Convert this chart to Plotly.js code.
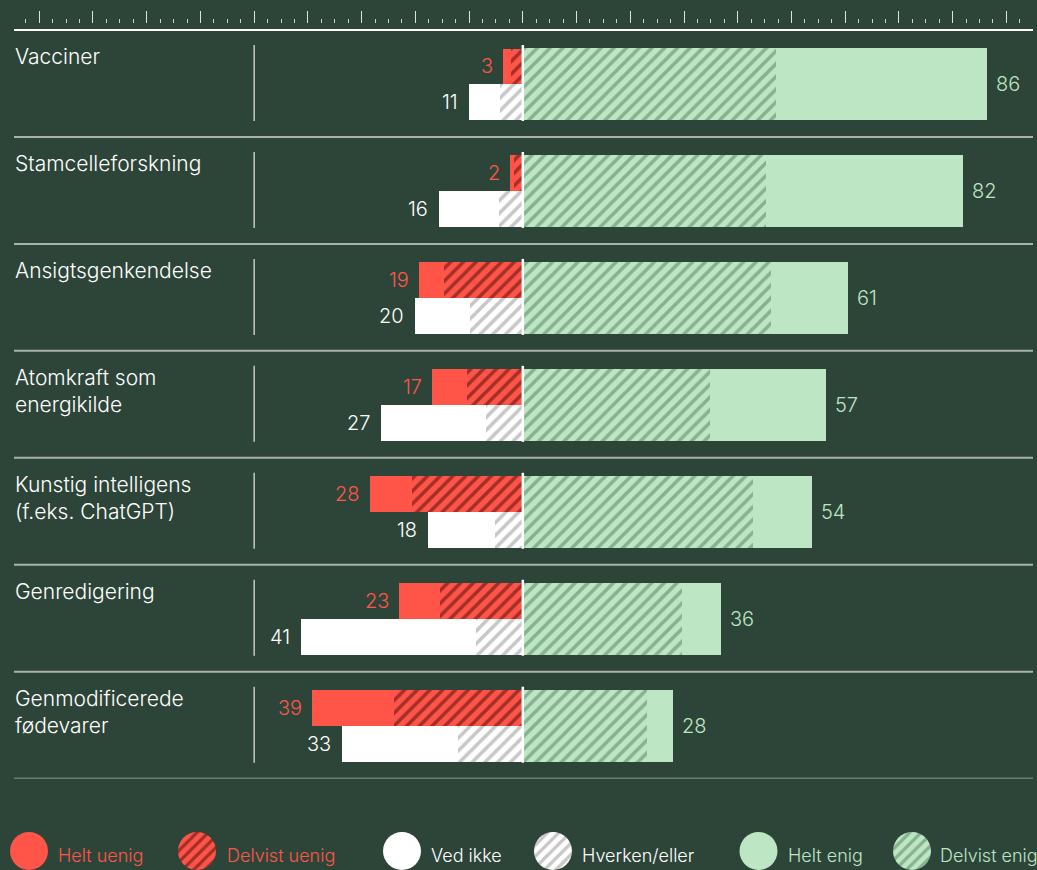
<!DOCTYPE html>
<html>
<head>
<meta charset="utf-8">
<script src="https://cdn.plot.ly/plotly-3.0.1.min.js"></script>
<style>
  html, body { margin: 0; padding: 0; background: #2d4538; }
  #chart { width: 1037px; height: 870px; }
</style>
</head>
<body>
<div id="chart"></div>
<script>
// ---- Data ----
const categories = [
  "Vacciner",
  "Stamcelleforskning",
  "Ansigtsgenkendelse",
  "Atomkraft som<br>energikilde",
  "Kunstig intelligens<br>(f.eks. ChatGPT)",
  "Genredigering",
  "Genmodificerede<br>fødevarer"
];
const heltUenig    = [1.4, 0.8, 4.6, 6.5, 7.8, 7.6, 15.2];
const delvistUenig = [2.2, 1.6, 14.7, 10.4, 20.6, 15.4, 24.0];
const vedIkke      = [5.8, 11.2, 10.3, 19.6, 12.4, 32.6, 21.6];
const hverkenEller = [4.2, 4.4, 9.8, 6.8, 5.2, 8.7, 12.0];
const delvistEnig  = [47.1, 45.3, 46.1, 34.9, 42.9, 29.7, 23.1];
const heltEnig     = [39.2, 36.7, 14.5, 21.6, 11.0, 7.2, 4.9];

const uenigLabels  = [3, 2, 19, 17, 28, 23, 39];
const vedIkkeLabels = [11, 16, 20, 27, 18, 41, 33];
const enigLabels   = [86, 82, 61, 57, 54, 36, 28];

const legendNames = ["Helt uenig", "Delvist uenig", "Ved ikke", "Hverken/eller", "Helt enig", "Delvist enig"];

// ---- Styling ----
const W = 1037, H = 870;
const BG = "#2d4538";
const RED = "#ff5549";
const RED_HATCH = "#4a0805";
const WHITE = "#ffffff";
const WHITE_HATCH = "#8f8f8f";
const GREEN = "#bde6c4";
const GREEN_HATCH = "#4f7d5a";
const SEP = "#a9b1aa";
const FONT = "Inter, Liberation Sans, Arial, sans-serif";
const WT = 300;

// pixel geometry
const P = 106.95;          // band pitch (px)
const bandTop0 = 30;       // first band top (px)
const plotTop = 24, plotBottom = 778.5;
const toData = px => (px - bandTop0) / P - 0.5;
const yRange = [toData(plotBottom), toData(plotTop)];

const greenOff = 0.75 / P, greenW = 71.5 / P;
const redOff = -17.1 / P, whiteOff = 18.6 / P, halfW = 35.75 / P;

const idx = categories.map((_, i) => i);

function hatch(bg, fg) {
  return { color: bg, line: { width: 0 },
           pattern: { shape: "/", bgcolor: bg, fgcolor: fg, size: 9, solidity: 0.4, fillmode: "overlay" } };
}
function solid(c) { return { color: c, line: { width: 0 } }; }

function barTrace(vals, base, yoff, w, marker, sign) {
  return {
    type: "bar", orientation: "h",
    x: vals.map(v => sign * v),
    base: base,
    y: idx.map(i => i + yoff),
    width: idx.map(() => w),
    marker: marker,
    hoverinfo: "skip",
    showlegend: false
  };
}

const traces = [
  barTrace(delvistUenig, idx.map(() => 0), redOff, halfW, hatch(RED, RED_HATCH), -1),
  barTrace(heltUenig, delvistUenig.map(v => -v), redOff, halfW, solid(RED), -1),
  barTrace(hverkenEller, idx.map(() => 0), whiteOff, halfW, hatch(WHITE, WHITE_HATCH), -1),
  barTrace(vedIkke, hverkenEller.map(v => -v), whiteOff, halfW, solid(WHITE), -1),
  barTrace(delvistEnig, idx.map(() => 0), greenOff, greenW, hatch(GREEN, GREEN_HATCH), 1),
  barTrace(heltEnig, delvistEnig, greenOff, greenW, solid(GREEN), 1)
];

// ---- Legend circles (pies) ----
const legendCx = [29, 197, 402, 553, 758.5, 912];
const legendTextX = [56, 225, 429, 580, 786, 938];
const legendColors = [RED, RED, WHITE, WHITE, GREEN, GREEN];
const legendHatch = [null, RED_HATCH, null, WHITE_HATCH, null, GREEN_HATCH];
const legendTextColor = [RED, RED, WHITE, WHITE, GREEN, GREEN];
const R = 19, legendCy = 851;

legendNames.forEach((name, k) => {
  const marker = { colors: [legendColors[k]], line: { width: 0 } };
  if (legendHatch[k]) {
    marker.pattern = { shape: "/", bgcolor: legendColors[k], fgcolor: legendHatch[k], size: 8, solidity: 0.4, fillmode: "overlay" };
  }
  traces.push({
    type: "pie", values: [1], labels: [name], sort: false,
    textinfo: "none", hoverinfo: "skip", showlegend: false,
    marker: marker,
    domain: { x: [(legendCx[k] - R) / W, (legendCx[k] + R) / W],
              y: [(H - legendCy - R) / H, (H - legendCy + R) / H] }
  });
});

// ---- Shapes ----
const shapes = [];
shapes.push({ type: "line", xref: "x domain", x0: 0, x1: 1, yref: "y", y0: -0.5, y1: -0.5,
              line: { color: WHITE, width: 2 } });
idx.forEach(i => {
  shapes.push({ type: "line", xref: "x domain", x0: 0, x1: 1, yref: "y", y0: i + 0.5, y1: i + 0.5,
                line: { color: SEP, width: 2 } });
  const yA = i - 0.5 + 15 / P, yB = i - 0.5 + 91 / P;
  shapes.push({ type: "line", xref: "x", x0: -50, x1: -50, yref: "y", y0: yA, y1: yB,
                line: { color: "#c3c9c4", width: 1.5 } });
  shapes.push({ type: "line", xref: "x", x0: 0, x1: 0, yref: "y", y0: yA, y1: yB,
                line: { color: WHITE, width: 2.5 } });
});

// ---- Annotations ----
const annotations = [];
idx.forEach(i => {
  const nLines = categories[i].split("<br>").length;
  annotations.push({
    xref: "paper", x: 13 / W, xanchor: "left",
    yref: "y", y: i - 0.5 + (26.5 + (nLines - 1) * 13.5) / P, yanchor: "middle",
    text: categories[i], showarrow: false, align: "left",
    font: { family: FONT, size: 21, weight: WT, color: "#ffffff" }
  });
  const redEnd = -(heltUenig[i] + delvistUenig[i]);
  annotations.push({
    xref: "x", x: redEnd, xanchor: "right", xshift: -8,
    yref: "y", y: i + redOff, yanchor: "middle",
    text: String(uenigLabels[i]), showarrow: false,
    font: { family: FONT, size: 20, weight: WT, color: RED }
  });
  const whiteEnd = -(vedIkke[i] + hverkenEller[i]);
  annotations.push({
    xref: "x", x: whiteEnd, xanchor: "right", xshift: -9,
    yref: "y", y: i + whiteOff, yanchor: "middle",
    text: String(vedIkkeLabels[i]), showarrow: false,
    font: { family: FONT, size: 20, weight: WT, color: WHITE }
  });
  const greenEnd = delvistEnig[i] + heltEnig[i];
  annotations.push({
    xref: "x", x: greenEnd, xanchor: "left", xshift: 7,
    yref: "y", y: i + greenOff, yanchor: "middle",
    text: String(enigLabels[i]), showarrow: false,
    font: { family: FONT, size: 20, weight: WT, color: GREEN }
  });
});
legendNames.forEach((name, k) => {
  annotations.push({
    xref: "paper", x: legendTextX[k] / W, xanchor: "left",
    yref: "paper", y: (H - 855) / H, yanchor: "middle",
    text: name, showarrow: false,
    font: { family: FONT, size: 18, weight: WT, color: legendTextColor[k] }
  });
});

const layout = {
  width: W, height: H,
  margin: { l: 0, r: 0, t: 0, b: 0, pad: 0 },
  paper_bgcolor: BG, plot_bgcolor: BG,
  barmode: "overlay",
  bargap: 0,
  showlegend: false,
  xaxis: {
    domain: [14 / W, 1033 / W],
    range: [-94.7, 94.95],
    side: "top",
    showline: false, showgrid: false, zeroline: false,
    showticklabels: false,
    ticks: "outside", tickmode: "linear", tick0: 0, dtick: 10,
    ticklen: 12, tickwidth: 1, tickcolor: "#dde3de",
    minor: { ticks: "outside", tickmode: "linear", tick0: 0, dtick: 2.5,
             ticklen: 4, tickwidth: 1, tickcolor: "#c9d0ca", showgrid: false },
    fixedrange: true
  },
  yaxis: {
    domain: [(H - plotBottom) / H, (H - plotTop) / H],
    range: yRange,
    showline: false, showgrid: false, zeroline: false,
    showticklabels: false, ticks: "",
    fixedrange: true
  },
  shapes: shapes,
  annotations: annotations
};

Plotly.newPlot("chart", traces, layout, { staticPlot: true, displayModeBar: false });
</script>
</body>
</html>
